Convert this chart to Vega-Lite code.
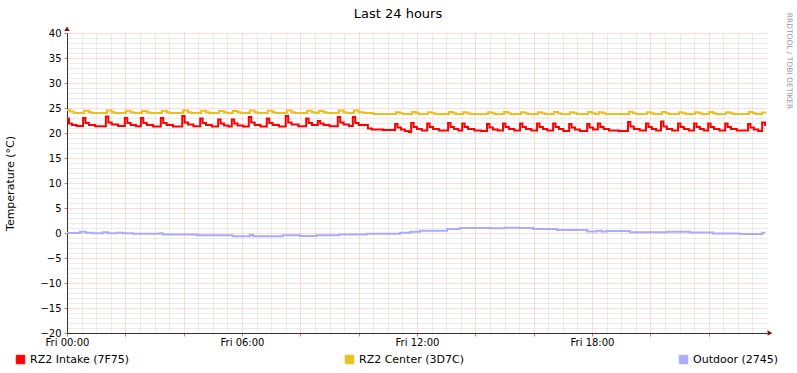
{
"$schema": "https://vega.github.io/schema/vega-lite/v6.json",
"width": 700, "height": 300,
"autosize": {"type": "none"},
"padding": {"left": 67, "top": 33, "right": 30, "bottom": 40},
"background": "#ffffff",
"config": {"view": {"stroke": null}, "font": "DejaVu Sans", "axis": {"labelFont": "DejaVu Sans", "titleFont": "DejaVu Sans"}, "legend": {"labelFont": "DejaVu Sans"}},
"title": {"text": "Last 24 hours", "font": "DejaVu Sans", "fontSize": 13, "fontWeight": "normal", "color": "#000000", "anchor": "middle", "frame": "group", "dx": -19, "baseline": "alphabetic", "offset": -19},
"datasets": {
"names": [{"k": "i", "name": "RZ2 Intake (7F75)"}, {"k": "c", "name": "RZ2 Center (3D7C)"}, {"k": "o", "name": "Outdoor (2745)"}],
"temps": [
{"m":0,"k":"i","v":22.9},{"m":4,"k":"i","v":21.9},{"m":10,"k":"i","v":21.6},{"m":20,"k":"i","v":21.4},
{"m":33,"k":"i","v":23.0},{"m":38,"k":"i","v":22.0},{"m":45,"k":"i","v":21.6},{"m":58,"k":"i","v":21.35},
{"m":80,"k":"i","v":23.3},{"m":85,"k":"i","v":22.1},{"m":92,"k":"i","v":21.7},{"m":105,"k":"i","v":21.4},
{"m":119,"k":"i","v":23.0},{"m":124,"k":"i","v":22.0},{"m":131,"k":"i","v":21.6},{"m":142,"k":"i","v":21.35},
{"m":152,"k":"i","v":23.0},{"m":157,"k":"i","v":22.0},{"m":164,"k":"i","v":21.6},{"m":177,"k":"i","v":21.3},
{"m":193,"k":"i","v":23.0},{"m":198,"k":"i","v":22.0},{"m":205,"k":"i","v":21.6},{"m":218,"k":"i","v":21.3},
{"m":237,"k":"i","v":23.4},{"m":242,"k":"i","v":22.1},{"m":249,"k":"i","v":21.7},{"m":260,"k":"i","v":21.35},
{"m":274,"k":"i","v":22.9},{"m":279,"k":"i","v":22.0},{"m":286,"k":"i","v":21.6},{"m":298,"k":"i","v":21.3},
{"m":311,"k":"i","v":22.7},{"m":316,"k":"i","v":21.9},{"m":323,"k":"i","v":21.5},{"m":332,"k":"i","v":21.3},
{"m":339,"k":"i","v":22.7},{"m":344,"k":"i","v":21.9},{"m":351,"k":"i","v":21.5},{"m":362,"k":"i","v":21.3},
{"m":374,"k":"i","v":23.2},{"m":379,"k":"i","v":22.1},{"m":386,"k":"i","v":21.6},{"m":398,"k":"i","v":21.3},
{"m":411,"k":"i","v":22.9},{"m":416,"k":"i","v":22.0},{"m":423,"k":"i","v":21.6},{"m":436,"k":"i","v":21.3},
{"m":450,"k":"i","v":23.4},{"m":455,"k":"i","v":22.1},{"m":462,"k":"i","v":21.7},{"m":476,"k":"i","v":21.35},
{"m":492,"k":"i","v":22.9},{"m":497,"k":"i","v":22.0},{"m":504,"k":"i","v":21.6},
{"m":516,"k":"i","v":22.4},{"m":521,"k":"i","v":21.9},{"m":528,"k":"i","v":21.6},{"m":540,"k":"i","v":21.35},
{"m":557,"k":"i","v":23.2},{"m":562,"k":"i","v":22.1},{"m":569,"k":"i","v":21.7},{"m":580,"k":"i","v":21.4},
{"m":588,"k":"i","v":23.2},{"m":593,"k":"i","v":22.0},{"m":600,"k":"i","v":21.6},{"m":619,"k":"i","v":20.9},{"m":627,"k":"i","v":20.7},{"m":650,"k":"i","v":20.6},
{"m":675,"k":"i","v":21.8},{"m":680,"k":"i","v":21.1},{"m":687,"k":"i","v":20.7},{"m":695,"k":"i","v":20.4},{"m":703,"k":"i","v":20.2},
{"m":708,"k":"i","v":22.0},{"m":713,"k":"i","v":21.2},{"m":720,"k":"i","v":20.8},{"m":730,"k":"i","v":20.5},
{"m":741,"k":"i","v":21.9},{"m":746,"k":"i","v":21.2},{"m":753,"k":"i","v":20.8},{"m":765,"k":"i","v":20.5},
{"m":784,"k":"i","v":22.0},{"m":789,"k":"i","v":21.2},{"m":796,"k":"i","v":20.8},{"m":805,"k":"i","v":20.5},
{"m":813,"k":"i","v":21.9},{"m":818,"k":"i","v":21.2},{"m":825,"k":"i","v":20.8},{"m":838,"k":"i","v":20.5},{"m":852,"k":"i","v":20.4},
{"m":864,"k":"i","v":21.8},{"m":869,"k":"i","v":21.1},{"m":876,"k":"i","v":20.7},{"m":886,"k":"i","v":20.5},
{"m":897,"k":"i","v":21.9},{"m":902,"k":"i","v":21.2},{"m":909,"k":"i","v":20.8},{"m":920,"k":"i","v":20.5},
{"m":932,"k":"i","v":21.9},{"m":937,"k":"i","v":21.2},{"m":944,"k":"i","v":20.8},{"m":955,"k":"i","v":20.5},
{"m":967,"k":"i","v":21.9},{"m":972,"k":"i","v":21.2},{"m":979,"k":"i","v":20.8},{"m":988,"k":"i","v":20.5},
{"m":1000,"k":"i","v":21.9},{"m":1005,"k":"i","v":21.2},{"m":1012,"k":"i","v":20.8},{"m":1021,"k":"i","v":20.4},
{"m":1033,"k":"i","v":21.8},{"m":1038,"k":"i","v":21.1},{"m":1045,"k":"i","v":20.7},{"m":1055,"k":"i","v":20.4},
{"m":1070,"k":"i","v":21.8},{"m":1075,"k":"i","v":21.1},{"m":1082,"k":"i","v":20.7},
{"m":1092,"k":"i","v":21.9},{"m":1097,"k":"i","v":21.2},{"m":1104,"k":"i","v":20.8},{"m":1115,"k":"i","v":20.5},{"m":1135,"k":"i","v":20.4},
{"m":1154,"k":"i","v":22.2},{"m":1159,"k":"i","v":21.3},{"m":1166,"k":"i","v":20.8},{"m":1178,"k":"i","v":20.5},
{"m":1191,"k":"i","v":21.9},{"m":1196,"k":"i","v":21.2},{"m":1203,"k":"i","v":20.8},{"m":1212,"k":"i","v":20.5},
{"m":1222,"k":"i","v":22.3},{"m":1227,"k":"i","v":21.3},{"m":1234,"k":"i","v":20.8},{"m":1245,"k":"i","v":20.5},
{"m":1257,"k":"i","v":21.9},{"m":1262,"k":"i","v":21.2},{"m":1269,"k":"i","v":20.8},{"m":1279,"k":"i","v":20.5},
{"m":1290,"k":"i","v":21.9},{"m":1295,"k":"i","v":21.2},{"m":1302,"k":"i","v":20.8},{"m":1310,"k":"i","v":20.5},
{"m":1319,"k":"i","v":21.9},{"m":1324,"k":"i","v":21.2},{"m":1331,"k":"i","v":20.8},{"m":1342,"k":"i","v":20.5},
{"m":1354,"k":"i","v":21.9},{"m":1359,"k":"i","v":21.2},{"m":1366,"k":"i","v":20.8},{"m":1378,"k":"i","v":20.5},
{"m":1401,"k":"i","v":21.8},{"m":1406,"k":"i","v":21.1},{"m":1413,"k":"i","v":20.7},{"m":1422,"k":"i","v":20.4},
{"m":1430,"k":"i","v":22.1},{"m":1436,"k":"i","v":21.4},
{"m":0,"k":"c","v":24.6},{"m":6,"k":"c","v":24.3},{"m":14,"k":"c","v":24.0},
{"m":35,"k":"c","v":24.45},{"m":45,"k":"c","v":24.15},{"m":51,"k":"c","v":24.0},
{"m":82,"k":"c","v":24.5},{"m":92,"k":"c","v":24.15},{"m":98,"k":"c","v":24.0},
{"m":121,"k":"c","v":24.45},{"m":131,"k":"c","v":24.15},{"m":137,"k":"c","v":24.0},
{"m":154,"k":"c","v":24.4},{"m":164,"k":"c","v":24.15},{"m":170,"k":"c","v":24.0},
{"m":195,"k":"c","v":24.45},{"m":205,"k":"c","v":24.15},{"m":211,"k":"c","v":24.0},
{"m":239,"k":"c","v":24.5},{"m":249,"k":"c","v":24.15},{"m":255,"k":"c","v":24.0},
{"m":276,"k":"c","v":24.45},{"m":286,"k":"c","v":24.15},{"m":292,"k":"c","v":24.0},
{"m":313,"k":"c","v":24.4},{"m":323,"k":"c","v":24.15},{"m":329,"k":"c","v":24.0},
{"m":341,"k":"c","v":24.4},{"m":351,"k":"c","v":24.15},{"m":357,"k":"c","v":24.0},
{"m":376,"k":"c","v":24.5},{"m":386,"k":"c","v":24.15},{"m":392,"k":"c","v":24.0},
{"m":413,"k":"c","v":24.45},{"m":423,"k":"c","v":24.15},{"m":429,"k":"c","v":24.0},
{"m":452,"k":"c","v":24.5},{"m":462,"k":"c","v":24.15},{"m":468,"k":"c","v":24.0},
{"m":494,"k":"c","v":24.45},{"m":504,"k":"c","v":24.15},{"m":510,"k":"c","v":24.0},
{"m":518,"k":"c","v":24.4},{"m":528,"k":"c","v":24.15},{"m":534,"k":"c","v":24.0},
{"m":559,"k":"c","v":24.5},{"m":569,"k":"c","v":24.15},{"m":575,"k":"c","v":24.0},
{"m":590,"k":"c","v":24.5},{"m":600,"k":"c","v":24.15},{"m":610,"k":"c","v":24.0},{"m":630,"k":"c","v":23.8},
{"m":677,"k":"c","v":24.15},{"m":685,"k":"c","v":23.95},{"m":691,"k":"c","v":23.8},
{"m":710,"k":"c","v":24.2},{"m":718,"k":"c","v":23.95},{"m":724,"k":"c","v":23.8},
{"m":743,"k":"c","v":24.15},{"m":751,"k":"c","v":23.95},{"m":757,"k":"c","v":23.8},
{"m":786,"k":"c","v":24.2},{"m":794,"k":"c","v":23.95},{"m":800,"k":"c","v":23.8},
{"m":815,"k":"c","v":24.15},{"m":823,"k":"c","v":23.95},{"m":829,"k":"c","v":23.8},
{"m":866,"k":"c","v":24.15},{"m":874,"k":"c","v":23.95},{"m":880,"k":"c","v":23.8},
{"m":899,"k":"c","v":24.2},{"m":907,"k":"c","v":23.95},{"m":913,"k":"c","v":23.8},
{"m":934,"k":"c","v":24.15},{"m":942,"k":"c","v":23.95},{"m":948,"k":"c","v":23.8},
{"m":969,"k":"c","v":24.15},{"m":977,"k":"c","v":23.95},{"m":983,"k":"c","v":23.8},
{"m":1002,"k":"c","v":24.2},{"m":1010,"k":"c","v":23.95},{"m":1016,"k":"c","v":23.8},
{"m":1035,"k":"c","v":24.15},{"m":1043,"k":"c","v":23.95},{"m":1049,"k":"c","v":23.8},
{"m":1072,"k":"c","v":24.2},{"m":1080,"k":"c","v":23.95},{"m":1086,"k":"c","v":23.8},
{"m":1094,"k":"c","v":24.15},{"m":1102,"k":"c","v":23.95},{"m":1108,"k":"c","v":23.8},
{"m":1156,"k":"c","v":24.25},{"m":1164,"k":"c","v":23.95},{"m":1170,"k":"c","v":23.8},
{"m":1193,"k":"c","v":24.15},{"m":1201,"k":"c","v":23.95},{"m":1207,"k":"c","v":23.8},
{"m":1224,"k":"c","v":24.2},{"m":1232,"k":"c","v":23.95},{"m":1238,"k":"c","v":23.8},
{"m":1259,"k":"c","v":24.15},{"m":1267,"k":"c","v":23.95},{"m":1273,"k":"c","v":23.8},
{"m":1292,"k":"c","v":24.15},{"m":1300,"k":"c","v":23.95},{"m":1306,"k":"c","v":23.8},
{"m":1321,"k":"c","v":24.2},{"m":1329,"k":"c","v":23.95},{"m":1335,"k":"c","v":23.8},
{"m":1356,"k":"c","v":24.15},{"m":1364,"k":"c","v":23.95},{"m":1370,"k":"c","v":23.8},
{"m":1403,"k":"c","v":24.2},{"m":1411,"k":"c","v":23.95},{"m":1417,"k":"c","v":23.8},
{"m":1430,"k":"c","v":24.1},{"m":1436,"k":"c","v":23.95},
{"m":0,"k":"o","v":0.0},{"m":27,"k":"o","v":0.25},{"m":39,"k":"o","v":0.05},{"m":53,"k":"o","v":-0.05},
{"m":74,"k":"o","v":0.15},{"m":84,"k":"o","v":-0.05},{"m":103,"k":"o","v":0.05},{"m":115,"k":"o","v":-0.05},
{"m":136,"k":"o","v":-0.15},{"m":191,"k":"o","v":-0.05},{"m":197,"k":"o","v":-0.3},{"m":267,"k":"o","v":-0.45},
{"m":341,"k":"o","v":-0.65},{"m":376,"k":"o","v":-0.4},{"m":383,"k":"o","v":-0.65},{"m":444,"k":"o","v":-0.45},
{"m":479,"k":"o","v":-0.6},{"m":514,"k":"o","v":-0.45},{"m":560,"k":"o","v":-0.3},{"m":617,"k":"o","v":-0.15},
{"m":685,"k":"o","v":0.05},{"m":706,"k":"o","v":0.25},{"m":726,"k":"o","v":0.45},{"m":782,"k":"o","v":0.8},
{"m":808,"k":"o","v":1.0},{"m":870,"k":"o","v":0.95},{"m":900,"k":"o","v":1.05},{"m":930,"k":"o","v":1.0},
{"m":959,"k":"o","v":0.8},{"m":1008,"k":"o","v":0.6},{"m":1070,"k":"o","v":0.3},{"m":1090,"k":"o","v":0.45},
{"m":1100,"k":"o","v":0.3},{"m":1111,"k":"o","v":0.4},{"m":1158,"k":"o","v":0.15},{"m":1234,"k":"o","v":0.25},
{"m":1282,"k":"o","v":0.1},{"m":1329,"k":"o","v":-0.1},{"m":1384,"k":"o","v":-0.2},{"m":1430,"k":"o","v":0.05},{"m":1436,"k":"o","v":0.05}
]
},
"data": {"name": "temps"},
"resolve": {"axis": {"x": "independent", "y": "independent"}},
"layer": [
{
"data": {"name": "names"},
"mark": {"type": "square", "filled": true, "stroke": "#000000", "strokeWidth": 1, "opacity": 0, "size": 1},
"encoding": {
"x": {"datum": 0, "type": "quantitative", "axis": null},
"y": {"datum": 0, "type": "quantitative", "axis": null},
"color": {"field": "name", "type": "nominal", "scale": {"domain": ["RZ2 Intake (7F75)", "RZ2 Center (3D7C)", "Outdoor (2745)"], "range": ["#ff0000", "#eac01c", "#aaaaff"]},
 "legend": {"title": null, "orient": "none", "legendX": -52, "legendY": 321, "direction": "horizontal", "columns": 3, "gridAlign": "none", "columnPadding": 213, "padding": 0, "symbolType": "square", "symbolSize": 72, "symbolOffset": 0, "symbolStrokeWidth": 1, "symbolOpacity": 1, "labelOffset": 4, "labelFontSize": 11, "labelColor": "#000000", "labelLimit": 0}}
}
},
{
"transform": [{"lookup": "k", "from": {"data": {"name": "names"}, "key": "k", "fields": ["name"]}}],
"mark": {"type": "line", "interpolate": "step-after", "strokeWidth": 2},
"encoding": {
"x": {"field": "m", "type": "quantitative", "scale": {"domain": [0, 1440], "nice": false, "zero": false},
 "axis": {"orient": "bottom", "values": [0,120,240,360,480,600,720,840,960,1080,1200,1320], "title": null, "labelExpr": "datum.value % 360 == 0 ? 'Fri ' + (datum.value < 600 ? '0' : '') + datum.value / 60 + ':00' : ''", "labelFontSize": 10, "labelColor": "#000000", "labelPadding": 1, "labelFlush": false, "labelOverlap": false, "labelBound": false, "grid": true, "gridColor": "#f5100f", "gridOpacity": 0.3, "gridDash": [1, 1], "ticks": true, "tickSize": 3, "tickColor": "#e07070", "domain": true, "domainColor": "#3a3030", "domainWidth": 1}},
"y": {"field": "v", "type": "quantitative", "scale": {"domain": [-20, 40], "nice": false, "zero": false},
 "axis": {"orient": "left", "values": [-20,-15,-10,-5,0,5,10,15,20,25,30,35,40], "title": "Temperature (°C)", "titleFontSize": 11, "titleFontWeight": "normal", "titleColor": "#000000", "titleAngle": -90, "titleX": -57, "titleY": 150, "titleAlign": "center", "titleBaseline": "middle", "labelFontSize": 10, "labelColor": "#000000", "labelPadding": 3, "grid": true, "gridColor": "#f5100f", "gridOpacity": 0.3, "gridDash": [1, 1], "ticks": true, "tickSize": 3, "tickColor": "#e07070", "domain": true, "domainColor": "#3a3030", "domainWidth": 1}},
"color": {"field": "name", "type": "nominal"}
}
},
{
"data": {"values": [{}]},
"mark": {"type": "point", "shape": "triangle-right", "filled": true, "size": 30, "color": "#7f1010", "opacity": 1, "clip": false},
"encoding": {
"x": {"datum": 1446, "type": "quantitative", "axis": {"orient": "top", "values": [30,60,90,150,180,210,270,300,330,390,420,450,510,540,570,630,660,690,750,780,810,870,900,930,990,1020,1050,1110,1140,1170,1230,1260,1290,1350,1380,1410], "title": null, "labels": false, "ticks": false, "domain": false, "grid": true, "gridColor": "#8f8f8f", "gridOpacity": 0.35, "gridDash": [1, 1]}},
"y": {"datum": -20, "type": "quantitative", "axis": {"orient": "right", "values": [-19,-18,-17,-16,-14,-13,-12,-11,-9,-8,-7,-6,-4,-3,-2,-1,1,2,3,4,6,7,8,9,11,12,13,14,16,17,18,19,21,22,23,24,26,27,28,29,31,32,33,34,36,37,38,39], "labels": false, "ticks": false, "domain": false, "grid": true, "gridColor": "#8f8f8f", "gridOpacity": 0.35, "gridDash": [1, 1], "title": "RRDTOOL / TOBI OETIKER", "titleFontSize": 7.5, "titleFontWeight": "normal", "titleColor": "#999999", "titleAngle": 90, "titleX": 21.5, "titleY": 27.5, "titleAlign": "center", "titleBaseline": "middle"}}
}
},
{
"data": {"values": [{}]},
"mark": {"type": "point", "shape": "triangle-up", "filled": true, "size": 30, "color": "#7f1010", "opacity": 1, "clip": false},
"encoding": {
"x": {"datum": 0, "type": "quantitative", "axis": null},
"y": {"datum": 40.85, "type": "quantitative", "axis": null}
}
}
]
}
